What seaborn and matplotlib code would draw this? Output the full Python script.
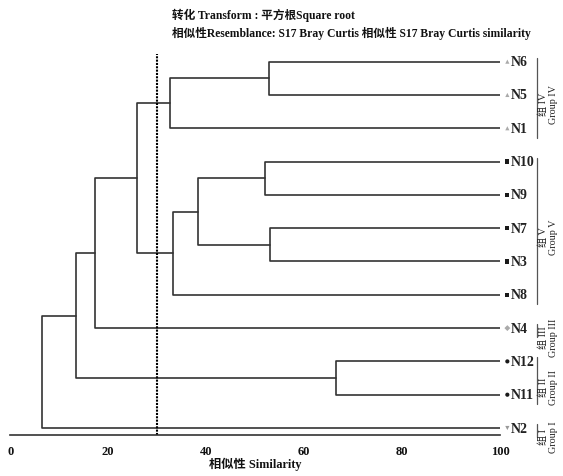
import matplotlib
matplotlib.use('Agg')
import numpy as np
import pandas as pd
import seaborn as sns
import matplotlib.pyplot as plt

####Data
leaves = ['N6', 'N5', 'N1', 'N10', 'N9', 'N7', 'N3', 'N8', 'N4', 'N12', 'N11', 'N2']
leaf_group = ['IV', 'IV', 'IV', 'V', 'V', 'V', 'V', 'V', 'III', 'II', 'II', 'I']
#merge steps: cluster c1, c2 ... in order
merge_a = ['N6', 'c1', 'N10', 'N7', 'c3', 'c5', 'c2', 'c7', 'N12', 'c8', 'c10']
merge_b = ['N5', 'N1', 'N9', 'N3', 'c4', 'N8', 'c6', 'N4', 'N11', 'c9', 'N2']
merge_sim = [52.9, 32.6, 52.1, 53.1, 38.3, 33.2, 25.9, 17.3, 66.6, 13.5, 6.4]
groups = ['IV', 'V', 'III', 'II', 'I']
cut_level = 30
x_ticks = [0, 20, 40, 60, 80, 100]

title1 = '转化 Transform : 平方根Square root'
title2 = '相似性Resemblance: S17 Bray Curtis 相似性 S17 Bray Curtis similarity'
xlab = '相似性 Similarity'

####Style
sns.set_style('white')
fam = ['Liberation Serif', 'Noto Sans CJK SC', 'DejaVu Sans']
plt.rcParams['font.family'] = fam
line_col = '#333333'

####Build dendrogram segments
n = len(leaves)
pos = {name: (100.0, n - 1 - i) for i, name in enumerate(leaves)}
rows = []
for k, (a, b, s) in enumerate(zip(merge_a, merge_b, merge_sim)):
    xa, ya = pos[a]
    xb, yb = pos[b]
    for x, y in [(xa, ya), (s, ya), (s, yb), (xb, yb)]:
        rows.append({'seg': k, 'x': x, 'y': y})
    pos['c%d' % (k + 1)] = (s, (ya + yb) / 2)
seg_df = pd.DataFrame(rows)

leaf_df = pd.DataFrame({'leaf': leaves, 'group': leaf_group,
                        'y': [n - 1 - i for i in range(n)]})
leaf_df['x'] = 101.5

####Plot
fig = plt.figure(figsize=(5.63, 4.77), dpi=100)
ax = fig.add_axes([10.3 / 563, 1 - 436 / 477, 489.7 / 563, 381 / 477])

sns.lineplot(data=seg_df, x='x', y='y', units='seg', estimator=None, sort=False,
             color=line_col, lw=1.2, ax=ax)
ax.axvline(cut_level, color='black', lw=1.5, linestyle=(0, (1.0, 0.6)))

marker_map = {'IV': '^', 'V': 's', 'III': 'D', 'II': 'o', 'I': 'v'}
pal = {'IV': '#aaaaaa', 'V': '#1a1a1a', 'III': '#aaaaaa', 'II': '#1a1a1a', 'I': '#999999'}
sns.scatterplot(data=leaf_df, x='x', y='y', hue='group', style='group',
                markers=marker_map, palette=pal, s=9, linewidth=0,
                legend=False, clip_on=False, ax=ax)
for _, r in leaf_df.iterrows():
    ax.text(102.2, r['y'], r['leaf'], ha='left', va='center', fontsize=10,
            fontweight='bold', color='#222222', clip_on=False)

####Group brackets
for g in groups:
    ys = leaf_df.loc[leaf_df['group'] == g, 'y']
    top, bot = ys.max() + 0.12, ys.min() - 0.28
    ax.plot([107.5, 107.5], [bot, top], color='#555555', lw=0.9, clip_on=False)
    ax.text(109.9, (ys.max() + ys.min()) / 2 - 0.25, '组 %s\nGroup %s' % (g, g),
            rotation=90, ha='center', va='center', fontsize=7.3, linespacing=1.1,
            multialignment='center', color='#222222', clip_on=False)

####Axes
ax.set_xlim(0, 100)
ax.set_ylim(-0.21, 11.23)
ax.set_xticks(x_ticks)
ax.set_yticks([])
for sp in ['left', 'top', 'right']:
    ax.spines[sp].set_visible(False)
ax.spines['bottom'].set_color(line_col)
ax.spines['bottom'].set_linewidth(1.2)
ax.tick_params(axis='x', direction='inout', length=8, width=1.2, colors=line_col,
               labelcolor='#111111', labelsize=9, pad=3)
for t in ax.get_xticklabels():
    t.set_fontweight('bold')
ax.set_xlabel(xlab, fontsize=8.8, fontweight='bold', labelpad=0, color='#111111')
ax.set_ylabel('')

fig.text(172 / 563, 1 - 15 / 477, title1, ha='left', va='center', fontsize=8.4,
         fontweight='bold', color='#111111')
fig.text(172 / 563, 1 - 33 / 477, title2, ha='left', va='center', fontsize=8.4,
         fontweight='bold', color='#111111')

plt.savefig('out.png', dpi=100, facecolor='white')
